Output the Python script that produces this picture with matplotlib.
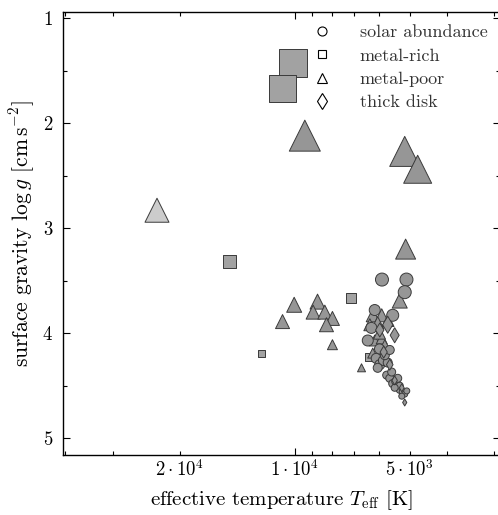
import matplotlib
matplotlib.use("Agg")
import matplotlib.pyplot as plt
import numpy as np
from matplotlib.lines import Line2D
from matplotlib.ticker import FixedLocator, NullFormatter

# effective temperature [K], log g, marker size (px)
solar_teff = [5911, 5099, 5153, 6175, 5540, 6440, 6120, 5990, 5860, 6065, 5710,
              5810, 5640, 5745, 5640, 5540, 5440, 5375, 5310, 5215, 5310, 5475,
              5153, 5090, 5245, 5375, 5575, 6300, 6000]
solar_logg = [3.49, 3.49, 3.61, 3.78, 3.83, 4.07, 4.24, 4.30, 4.26, 4.33, 4.28,
              4.21, 4.16, 4.40, 4.43, 4.48, 4.46, 4.51, 4.54, 4.56, 4.50, 4.52,
              4.58, 4.55, 4.60, 4.43, 4.37, 3.95, 4.15]
solar_size = [13, 13, 13, 11, 12, 11, 10, 10, 10, 9, 9,
              9, 9, 8, 8, 8, 8, 8, 7, 7, 7, 7,
              6, 6, 6, 8, 8, 11, 10]

rich_teff = [10140, 10770, 14820, 7105, 12200, 6390]
rich_logg = [1.43, 1.67, 3.32, 3.67, 4.19, 4.23]
rich_size = [28, 27, 13, 10, 7, 8]

poor_teff = [22970, 9415, 5153, 4766, 5125, 5310, 10040, 10770, 8720, 8955, 8345,
             7970, 8262, 7970, 6687, 6250, 5920, 6360, 6065, 6175, 5920, 6250, 5810,
             6000, 5700]
poor_logg = [2.83, 2.12, 2.27, 2.44, 3.20, 3.69, 3.73, 3.89, 3.70, 3.80, 3.80,
             3.86, 3.92, 4.11, 4.33, 3.83, 3.83, 3.92, 3.90, 4.07, 4.05, 4.19, 4.11,
             4.00, 3.88]
poor_size = [24, 31, 30, 28, 20, 15, 15, 14, 15, 14, 14,
             14, 14, 10, 8, 13, 13, 12, 12, 11, 11, 10, 10,
             12, 12]
poor_faint = [True] + [False] * 24

thick_teff = [5710, 5475, 5990, 5850, 5640, 5475, 5245, 5153]
thick_logg = [3.92, 4.02, 3.97, 4.18, 4.30, 4.45, 4.52, 4.66]
thick_size = [17, 15, 14, 12, 11, 9, 8, 7]

legend_labels = ["solar abundance", "metal-rich", "metal-poor", "thick disk"]
xtick_values = [2e4, 1e4, 5e3]
xtick_labels = [r"$2\cdot10^4$", r"$1\cdot10^4$", r"$5\cdot10^3$"]

plt.rcParams["font.family"] = "serif"
plt.rcParams["font.serif"] = ["cmr10", "DejaVu Serif"]
plt.rcParams["mathtext.fontset"] = "cm"
plt.rcParams["axes.formatter.use_mathtext"] = True

fig = plt.figure(figsize=(4.98, 5.15), dpi=100)
ax = fig.add_axes([63 / 498, 60 / 515, 437 / 498, 443 / 515])

px = 0.72  # points per pixel at 100 dpi
edge = "#3a3a3a"


def draw(teff, logg, size, marker, color):
    s = (np.array(size) * px) ** 2
    ax.scatter(teff, logg, s=s, marker=marker, c=color, edgecolors=edge,
               linewidths=0.7, zorder=3)


draw(rich_teff, rich_logg, rich_size, "s", "#a2a2a2")
poor_fill = ["#cccccc" if f else "#969696" for f in poor_faint]
draw(poor_teff, poor_logg, poor_size, "^", poor_fill)
draw(solar_teff, solar_logg, solar_size, "o", "#969696")
draw(thick_teff, thick_logg, np.array(thick_size) / 1.41, "d", "#969696")

ax.set_xscale("log")
ax.set_xlim(40500, 2900)
ax.set_ylim(5.16, 0.943)

ax.xaxis.set_major_locator(FixedLocator([1e4]))
ax.xaxis.set_major_formatter(NullFormatter())
minor = [4e4, 3e4, 2e4, 9e3, 8e3, 7e3, 6e3, 5e3, 4e3, 3e3]
ax.xaxis.set_minor_locator(FixedLocator(minor))
ax.xaxis.set_minor_formatter(NullFormatter())
for v, lab in zip(xtick_values, xtick_labels):
    ax.text(v, -4 / 443, lab, transform=ax.get_xaxis_transform(), ha="center",
            va="top", fontsize=13.5)

ax.set_yticks([1, 2, 3, 4, 5])
ax.set_yticks([1.5, 2.5, 3.5, 4.5], minor=True)
ax.tick_params(which="both", direction="in", top=True, right=True,
               labelsize=13.5, width=0.8)
ax.tick_params(which="major", length=5, pad=7)
ax.tick_params(which="minor", length=3)
for sp in ax.spines.values():
    sp.set_linewidth(1.0)

ax.set_xlabel(r"effective temperature $T_{\mathrm{eff}}$ [K]", fontsize=15,
              va="center")
ax.xaxis.set_label_coords(0.5, -45 / 443)
ax.set_ylabel(r"surface gravity $\log g$ [cm$\,$s$^{-2}$]", fontsize=15.5,
              va="center")
ax.yaxis.set_label_coords(-41 / 437, 0.5)

handles = [
    Line2D([], [], ls="none", marker="o", ms=6.5, mfc="white", mec="black", mew=0.8),
    Line2D([], [], ls="none", marker="s", ms=6, mfc="white", mec="black", mew=0.8),
    Line2D([], [], ls="none", marker="^", ms=7.5, mfc="white", mec="black", mew=0.8),
    Line2D([], [], ls="none", marker="d", ms=8, mfc="white", mec="black", mew=0.8),
]
leg = ax.legend(handles, legend_labels, loc="upper right", frameon=False,
                fontsize=13, handlelength=1.0, handletextpad=1.6,
                labelspacing=0.43, bbox_to_anchor=(1.0, 1.0),
                borderaxespad=0.3)
for t in leg.get_texts():
    t.set_color("#333333")

fig.savefig("out.png", dpi=100)
